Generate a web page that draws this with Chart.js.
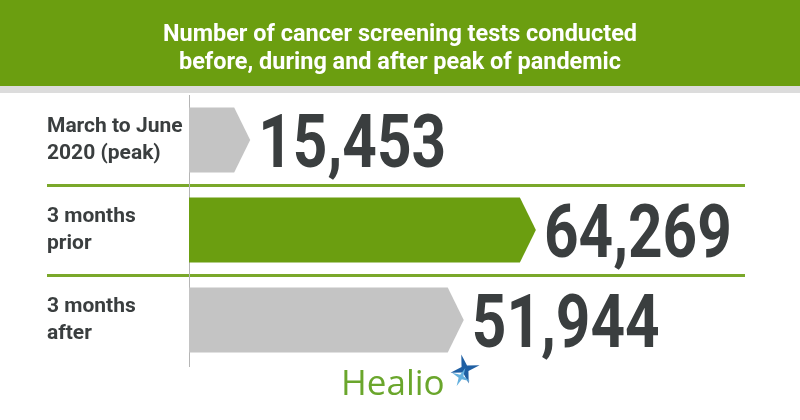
<!DOCTYPE html>
<html>
<head>
<meta charset="utf-8">
<script src="https://cdn.jsdelivr.net/npm/chart.js@4/dist/chart.umd.min.js"></script>
<style>
  html, body { margin: 0; padding: 0; background: #fff; }
  #wrap { width: 800px; height: 420px; }
</style>
</head>
<body>
<div id="wrap"><canvas id="chart1" width="800" height="420"></canvas></div>
<script>
// data
const periods = [['March to June', '2020 (peak)'], ['3 months', 'prior'], ['3 months', 'after']];
const testCounts = [15453, 64269, 51944];
const barColors = ['#c4c4c4', '#6b9e10', '#c4c4c4'];
const titleLines = ['Number of cancer screening tests conducted', 'before, during and after peak of pandemic'];

const GREEN = '#6b9e10';
const DARK = '#3a3e3f';

// draw text squeezed horizontally (no condensed font installed)
function narrowText(c, text, x, y, sx, align) {
    const w = c.measureText(text).width * sx;
    let left = x;
    if (align === 'center') left = x - w / 2;
    c.save();
    c.translate(left, y);
    c.scale(sx, 1);
    c.textAlign = 'left';
    c.fillText(text, 0, 0);
    c.restore();
}

// header band with title
const headerBg = {
    id: 'headerBg',
    beforeDraw(chart) {
        const c = chart.ctx;
        c.save();
        c.fillStyle = '#fff';
        c.fillRect(0, 0, chart.width, chart.height);
        c.fillStyle = GREEN;
        c.fillRect(0, 0, chart.width, 86);
        c.fillStyle = '#dcdcdc';
        c.fillRect(0, 86, chart.width, 7);

        c.fillStyle = '#fff';
        c.font = 'bold 24px Roboto, sans-serif';
        c.textBaseline = 'alphabetic';
        const sx = 474 / c.measureText(titleLines[0]).width;
        narrowText(c, titleLines[0], 400, 41, sx, 'center');
        narrowText(c, titleLines[1], 400, 69, sx, 'center');
        c.restore();
    }
};

// arrow shaped bars + value labels
const arrowBars = {
    id: 'arrowBars',
    afterDatasetsDraw(chart) {
        const c = chart.ctx;
        const meta = chart.getDatasetMeta(0);
        const left = chart.chartArea.left;
        c.save();
        c.font = 'bold 74px Roboto, sans-serif';
        c.textBaseline = 'alphabetic';
        const sx = 188 / c.measureText('64,269').width;
        meta.data.forEach((bar, i) => {
            const top = bar.y - bar.height / 2;
            const bottom = bar.y + bar.height / 2;
            const base = Math.max(bar.base, left);
            const tip = bar.x;
            const body = tip - 16;
            c.fillStyle = barColors[i];
            c.beginPath();
            c.moveTo(base, top);
            c.lineTo(body, top);
            c.lineTo(tip, bar.y);
            c.lineTo(body, bottom);
            c.lineTo(base, bottom);
            c.closePath();
            c.fill();

            c.fillStyle = DARK;
            narrowText(c, testCounts[i].toLocaleString('en-US'), tip + 8, bar.y + 27, sx, 'left');
        });
        c.restore();
    }
};

// Healio logo under the chart
const logo = {
    id: 'logo',
    afterDraw(chart) {
        const c = chart.ctx;
        c.save();
        c.fillStyle = '#6aa62c';
        c.font = '35px "Open Sans", sans-serif';
        c.textAlign = 'left';
        c.textBaseline = 'alphabetic';
        c.fillText('Healio', 341, 395);

        function star(cx, cy, r, inner, color, rot) {
            c.fillStyle = color;
            c.beginPath();
            for (let k = 0; k < 8; k++) {
                const a = rot + k * Math.PI / 4;
                const rr = k % 2 === 0 ? r : inner;
                const px = cx + rr * Math.cos(a);
                const py = cy + rr * Math.sin(a);
                if (k === 0) c.moveTo(px, py); else c.lineTo(px, py);
            }
            c.closePath();
            c.fill();
        }
        star(465, 369, 15, 4, '#1f5fa3', -0.25);
        star(461, 377, 10, 2.5, '#64b0de', 0.45);
        c.restore();
    }
};

const ctx1 = document.getElementById('chart1').getContext('2d');
const chart1 = new Chart(ctx1, {
    type: 'bar',
    data: {
        labels: periods,
        datasets: [{
            data: testCounts,
            backgroundColor: 'rgba(0,0,0,0)',
            barPercentage: 0.72,
            categoryPercentage: 1
        }]
    },
    options: {
        indexAxis: 'y',
        responsive: false,
        animation: false,
        layout: { padding: { left: 47, right: 55, top: 95, bottom: 55 } },
        plugins: {
            legend: { display: false },
            tooltip: { enabled: false },
            title: { display: false }
        },
        scales: {
            x: {
                display: false,
                min: 5000,
                max: 100000
            },
            y: {
                afterFit(scale) { scale.width = 142; },
                border: { display: true, color: '#b5b5b5', width: 1 },
                grid: {
                    offset: true,
                    tickLength: 142,
                    lineWidth: 3,
                    color: (c) => (c.index === 1 || c.index === 2) ? '#7aa82a' : 'rgba(0,0,0,0)'
                },
                ticks: {
                    crossAlign: 'far',
                    color: DARK,
                    padding: 0,
                    font: { family: 'Roboto, sans-serif', size: 21, weight: 'bold', lineHeight: 1.29 }
                }
            }
        }
    },
    plugins: [headerBg, arrowBars, logo]
});
</script>
</body>
</html>
